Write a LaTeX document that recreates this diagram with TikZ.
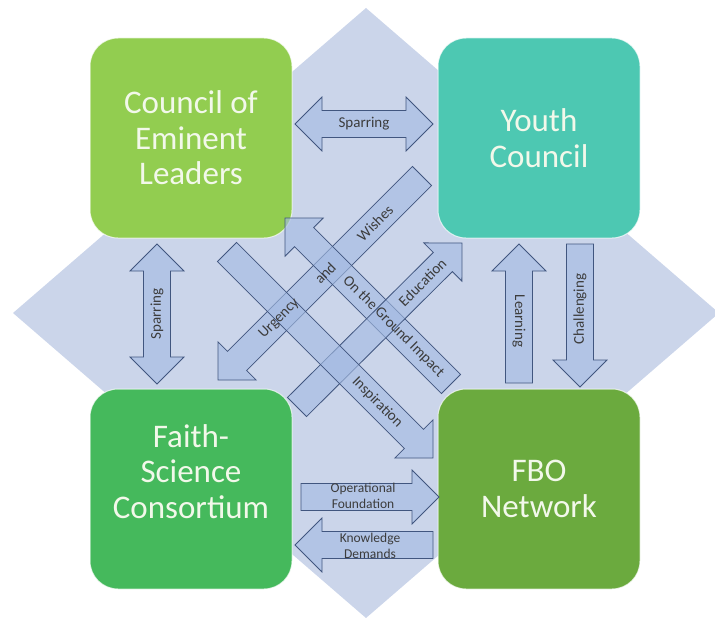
\documentclass[tikz,border=0pt]{standalone}
\usepackage{fontspec}
\setmainfont{Carlito}
\usetikzlibrary{calc,positioning}

\definecolor{celgreen}{HTML}{92CD50}
\definecolor{youthteal}{HTML}{4DC8B2}
\definecolor{fscgreen}{HTML}{45B95C}
\definecolor{fbogreen}{HTML}{6BAA3E}
\definecolor{boxtext}{HTML}{F2F8EA}
\definecolor{diamondblue}{HTML}{CBD5EA}
\definecolor{arrowfill}{HTML}{A3BAE2}
\definecolor{arrowline}{HTML}{41567F}
\definecolor{labelgray}{HTML}{3C3C3C}

% block arrows, #1 = tail, #2 = tip
\newcommand{\singleblock}[2]{%
  \coordinate (hb) at ($(#2)!27pt!(#1)$);
  \draw[blockarrow] ($(#1)!13.5pt!90:(#2)$) -- ($(hb)!13.5pt!90:(#2)$)
    -- ($(hb)!27pt!90:(#2)$) -- (#2) -- ($(hb)!27pt!-90:(#2)$)
    -- ($(hb)!13.5pt!-90:(#2)$) -- ($(#1)!13.5pt!-90:(#2)$) -- cycle;
}
\newcommand{\doubleblock}[2]{%
  \coordinate (hba) at ($(#1)!27pt!(#2)$);
  \coordinate (hbb) at ($(#2)!27pt!(#1)$);
  \draw[blockarrow] (#1) -- ($(hba)!27pt!90:(#2)$) -- ($(hba)!13.5pt!90:(#2)$)
    -- ($(hbb)!13.5pt!90:(#2)$) -- ($(hbb)!27pt!90:(#2)$) -- (#2)
    -- ($(hbb)!27pt!-90:(#2)$) -- ($(hbb)!13.5pt!-90:(#2)$)
    -- ($(hba)!13.5pt!-90:(#2)$) -- ($(hba)!27pt!-90:(#2)$) -- cycle;
}

\begin{document}
\begin{tikzpicture}[
x=1pt,
y=-1pt,
box/.style={
  rounded corners=28pt,
  minimum width=202pt,
  minimum height=200pt,
  draw=white,
  draw opacity=0.7,
  line width=1pt,
  inner sep=0pt,
  align=center,
  text=boxtext,
  font=\fontsize{33}{35.5}\selectfont
  },
blockarrow/.style={
  draw=arrowline,
  line width=0.8pt,
  fill=arrowfill,
  fill opacity=0.62,
  line join=miter
  },
lbl/.style={
  inner sep=0pt,
  text=labelgray,
  font=\fontsize{15}{18}\selectfont
  },
smalllbl/.style={
  lbl,
  align=center,
  font=\fontsize{13.5}{16}\selectfont
  }
]
\useasboundingbox (0,0) rectangle (715,618);
\fill[diamondblue] (366,8) -- (719,313) -- (366,618) -- (13,313) -- cycle;

\node[box, fill=celgreen] (cel) at (191,138) {Council of\\Eminent\\Leaders};
\node[box, fill=youthteal, right=145pt of cel] (youth) {Youth\\Council};
\node[box, fill=fscgreen, below=150pt of cel] (fsc) {Faith-\\Science\\Consortium\\\mbox{}};
\node[box, fill=fbogreen, below=150pt of youth] (fbo) {FBO\\Network};

% arrow ends
\coordinate (spar1-l) at (295,124);
\coordinate (spar1-r) at (433,124);
\coordinate (spar2-t) at (157,244);
\coordinate (spar2-b) at (157,384);
\coordinate (learn-tail) at (519,383);
\coordinate (learn-tip) at (519,244);
\coordinate (chal-tail) at (580,244);
\coordinate (chal-tip) at (580,387);
\coordinate (oper-tail) at (301,497);
\coordinate (oper-tip) at (439,497);
\coordinate (know-tail) at (433,545);
\coordinate (know-tip) at (295,545);
\coordinate (urg-tail) at (422,176);
\coordinate (urg-tip) at (218,380);
\coordinate (ground-tail) at (451,384);
\coordinate (ground-tip) at (285,218);
\coordinate (edu-tail) at (297,407);
\coordinate (edu-tip) at (462,243);
\coordinate (insp-tail) at (227,252);
\coordinate (insp-tip) at (433,458);

\doubleblock{spar1-l}{spar1-r}
\doubleblock{spar2-t}{spar2-b}
\singleblock{learn-tail}{learn-tip}
\singleblock{chal-tail}{chal-tip}
\singleblock{oper-tail}{oper-tip}
\singleblock{know-tail}{know-tip}
\singleblock{urg-tail}{urg-tip}
\singleblock{ground-tail}{ground-tip}
\singleblock{edu-tail}{edu-tip}
\singleblock{insp-tail}{insp-tip}

\node[lbl] (spar1-lbl) at ($(spar1-l)!0.5!(spar1-r)$) {Sparring};
\node[lbl, rotate=90] (spar2-lbl) at ($(spar2-t)!0.5!(spar2-b)$) {Sparring};
\node[lbl, rotate=-90] (learn-lbl) at (519,321) {Learning};
\node[lbl, rotate=90] (chal-lbl) at (580,309) {Challenging};
\node[smalllbl] (oper-lbl) at (363,496) {Operational\\Foundation};
\node[smalllbl] (know-lbl) at (370,546) {Knowledge\\Demands};
\foreach \w/\p in {Urgency/0.70, and/0.475, Wishes/0.23}
  \node[lbl, rotate=45] (urg-\w) at ($(urg-tail)!\p!(urg-tip)$) {\w};
\node[lbl, rotate=-45] (ground-lbl) at ($(ground-tail)!0.346!(ground-tip)$) {On the Ground Impact};
\node[lbl, rotate=45] (edu-lbl) at ($(edu-tail)!0.76!(edu-tip)$) {Education};
\node[lbl, rotate=-45] (insp-lbl) at ($(insp-tail)!0.73!(insp-tip)$) {Inspiration};
\end{tikzpicture}
\end{document}
